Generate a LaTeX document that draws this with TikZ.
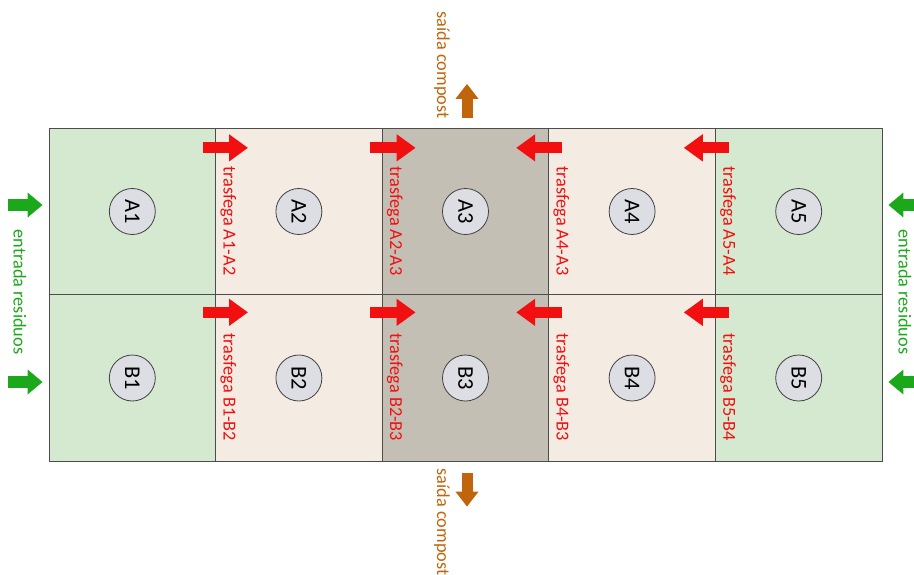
\documentclass[tikz,border=0pt]{standalone}
\usepackage{fontspec}
\setmainfont{Carlito}
\usetikzlibrary{arrows.meta}
\definecolor{verdeclaro}{HTML}{D5E8D0}
\definecolor{beige}{HTML}{F4ECE3}
\definecolor{gris}{HTML}{C4BFB5}
\definecolor{circ}{HTML}{DDDEE3}
\definecolor{rojo}{HTML}{F20F0F}
\definecolor{verde}{HTML}{1BA81B}
\definecolor{marron}{HTML}{C0650C}
\begin{document}
\begin{tikzpicture}[x=1pt,y=-1pt,
 c/.style={draw=black!70,line width=0.8pt,minimum width=166.6pt,minimum height=166.5pt,inner sep=0pt},
 n/.style={circle,draw=black!75,line width=0.8pt,fill=circ,minimum size=46pt,inner sep=0pt,rotate=-90,font=\fontsize{22.5}{24}\selectfont},
 t/.style={rotate=-90,inner sep=0pt,font=\fontsize{18.3}{20}\selectfont},
 ra/.style={rojo,line width=11pt,-{Triangle[length=19pt,width=26pt]}},
 va/.style={verde,line width=12pt,-{Triangle[length=15pt,width=24pt]}},
 ma/.style={marron,line width=11pt,-{Triangle[length=15pt,width=22pt]}}]
\useasboundingbox (0,0) rectangle (914,574);
\clip (0,0) rectangle (914,574);
% fila A
\node[c,fill=verdeclaro] (cA1) at (132.3,211.5) {};
\node[c,fill=beige] (cA2) at (298.9,211.5) {};
\node[c,fill=gris] (cA3) at (465.5,211.5) {};
\node[c,fill=beige] (cA4) at (632.1,211.5) {};
\node[c,fill=verdeclaro] (cA5) at (798.7,211.5) {};
% fila B
\node[c,fill=verdeclaro] (cB1) at (132.3,378) {};
\node[c,fill=beige] (cB2) at (298.9,378) {};
\node[c,fill=gris] (cB3) at (465.5,378) {};
\node[c,fill=beige] (cB4) at (632.1,378) {};
\node[c,fill=verdeclaro] (cB5) at (798.7,378) {};
\node[n] (A1) at (cA1) {A1};
\node[n] (A2) at (cA2) {A2};
\node[n] (A3) at (cA3) {A3};
\node[n] (A4) at (cA4) {A4};
\node[n] (A5) at (cA5) {A5};
\node[n] (B1) at (cB1) {B1};
\node[n] (B2) at (cB2) {B2};
\node[n] (B3) at (cB3) {B3};
\node[n] (B4) at (cB4) {B4};
\node[n] (B5) at (cB5) {B5};
% trasfegas
\draw[ra] ([xshift=-13pt,yshift=-20pt]cA1.north east) -- ++(45,0);
\draw[ra] ([xshift=-13pt,yshift=-20pt]cA2.north east) -- ++(46,0);
\draw[ra] ([xshift=13pt,yshift=-20pt]cA3.north east) -- ++(-46,0);
\draw[ra] ([xshift=13pt,yshift=-20pt]cA4.north east) -- ++(-45,0);
\draw[ra] ([xshift=-13pt,yshift=-18pt]cB1.north east) -- ++(45,0);
\draw[ra] ([xshift=-13pt,yshift=-18pt]cB2.north east) -- ++(46,0);
\draw[ra] ([xshift=13pt,yshift=-18pt]cB3.north east) -- ++(-46,0);
\draw[ra] ([xshift=13pt,yshift=-18pt]cB4.north east) -- ++(-45,0);
\node[t,text=rojo] (tA12) at ([xshift=13pt,yshift=-9.5pt]cA2.west) {trasfega A1-A2};
\node[t,text=rojo] (tA23) at ([xshift=13pt,yshift=-9.5pt]cA3.west) {trasfega A2-A3};
\node[t,text=rojo] (tA43) at ([xshift=13pt,yshift=-9.5pt]cA4.west) {trasfega A4-A3};
\node[t,text=rojo] (tA54) at ([xshift=13pt,yshift=-9.5pt]cA5.west) {trasfega A5-A4};
\node[t,text=rojo] (tB12) at ([xshift=13pt,yshift=-9.5pt]cB2.west) {trasfega B1-B2};
\node[t,text=rojo] (tB23) at ([xshift=13pt,yshift=-9.5pt]cB3.west) {trasfega B2-B3};
\node[t,text=rojo] (tB43) at ([xshift=13pt,yshift=-9.5pt]cB4.west) {trasfega B4-B3};
\node[t,text=rojo] (tB54) at ([xshift=13pt,yshift=-9.5pt]cB5.west) {trasfega B5-B4};
% entradas
\draw[va] ([xshift=-41pt,yshift=6.5pt]cA1.west) -- ++(35,0);
\draw[va] ([xshift=-41pt,yshift=-4pt]cB1.west) -- ++(35,0);
\draw[va] ([xshift=36pt,yshift=6.5pt]cA5.east) -- ++(-30,0);
\draw[va] ([xshift=36pt,yshift=-4pt]cB5.east) -- ++(-30,0);
\node[t,text=verde] (eIzq) at (20,292) {entrada residuos};
\node[t,text=verde] (eDer) at (905,292) {entrada residuos};
% salidas
\draw[ma] ([xshift=1.5pt,yshift=10pt]cA3.north) -- ++(0,-34);
\draw[ma] ([xshift=1.5pt,yshift=-11pt]cB3.south) -- ++(0,34);
\node[t,text=marron] (sArr) at (442,65) {saída compost};
\node[t,text=marron] (sAba) at (442,522) {saída compost};
\end{tikzpicture}
\end{document}
